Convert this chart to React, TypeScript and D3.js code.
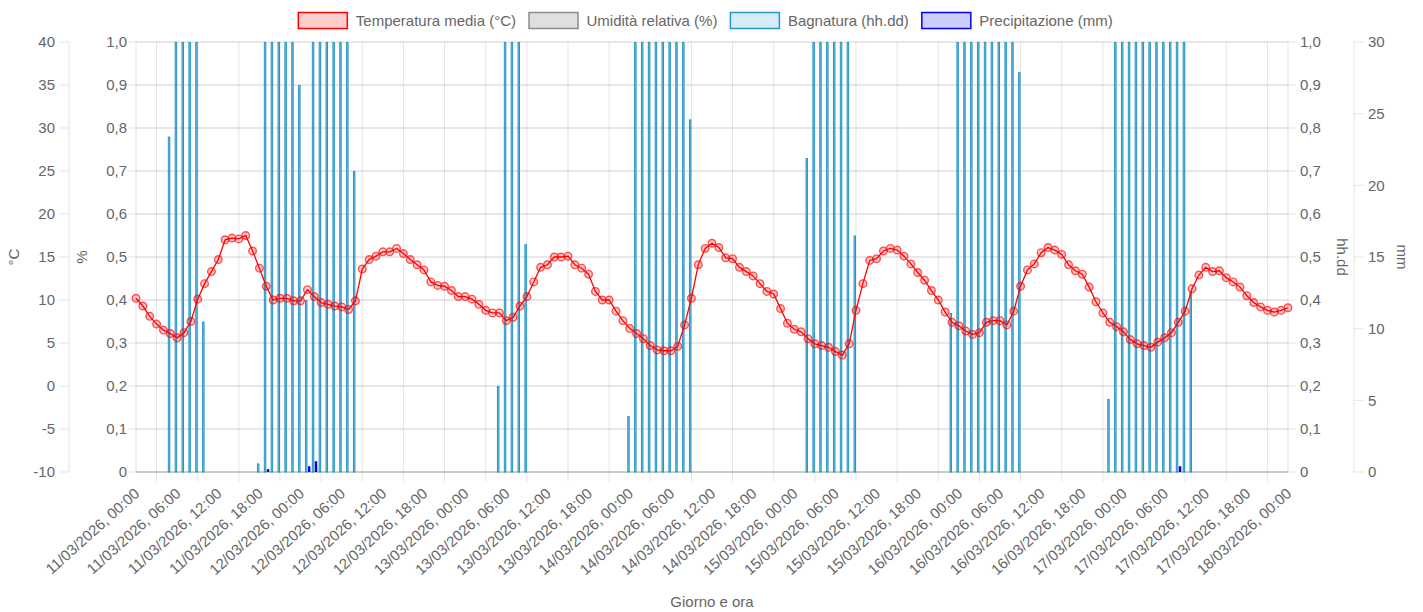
import React from 'react';
import * as d3 from 'd3';

// hourly readings, 11/03/2026 00:00 -> 18/03/2026 00:00 (169 values)
const START = Date.UTC(2026, 2, 11, 0);
const HOUR = 3600 * 1000;

const temperature = [
  10.2, 9.3, 8.1, 7.2, 6.5, 6.1, 5.6, 6.2, 7.5, 10.1, 11.9, 13.3, 14.7, 17.0, 17.2, 17.1, 17.5, 15.7, 13.7, 11.6, 10.0, 10.2, 10.2, 9.9,
  9.9, 11.2, 10.4, 9.7, 9.5, 9.3, 9.2, 8.9, 9.9, 13.6, 14.7, 15.1, 15.6, 15.6, 16.0, 15.4, 14.7, 14.1, 13.5, 12.1, 11.7, 11.6, 11.1, 10.4,
  10.4, 10.1, 9.5, 8.8, 8.5, 8.5, 7.6, 8.0, 9.3, 10.4, 12.1, 13.8, 14.1, 15.0, 15.0, 15.1, 14.1, 13.7, 13.0, 11.0, 10.0, 10.0, 8.7, 7.6,
  6.7, 6.1, 5.5, 4.7, 4.2, 4.1, 4.1, 4.6, 7.1, 10.2, 14.1, 16.0, 16.6, 16.1, 14.9, 14.8, 13.8, 13.3, 12.8, 11.9, 11.0, 10.7, 9.0, 7.3,
  6.6, 6.3, 5.5, 4.9, 4.7, 4.5, 4.0, 3.6, 4.9, 8.8, 11.9, 14.6, 14.8, 15.7, 16.0, 15.8, 15.1, 14.2, 13.2, 12.3, 11.1, 10.0, 8.6, 7.4,
  7.0, 6.4, 6.0, 6.2, 7.4, 7.6, 7.6, 7.1, 8.7, 11.6, 13.5, 14.2, 15.5, 16.1, 15.8, 15.3, 14.1, 13.4, 13.0, 11.5, 9.8, 8.5, 7.4, 6.9,
  6.3, 5.4, 4.9, 4.7, 4.5, 5.1, 5.6, 6.2, 7.4, 8.7, 11.3, 12.9, 13.8, 13.3, 13.4, 12.6, 12.1, 11.5, 10.5, 9.7, 9.2, 8.8, 8.6, 8.8,
  9.1,
];

const humidity: number[] = [];

const wetness = [
  0, 0, 0, 0, 0, 0.78, 1, 1, 1, 1, 0.35, 0, 0, 0, 0, 0, 0, 0, 0.02, 1, 1, 1, 1, 1,
  0.9, 0.4, 1, 1, 1, 1, 1, 1, 0.7, 0, 0, 0, 0, 0, 0, 0, 0, 0, 0, 0, 0, 0, 0, 0,
  0, 0, 0, 0, 0, 0.2, 1, 1, 1, 0.53, 0, 0, 0, 0, 0, 0, 0, 0, 0, 0, 0, 0, 0, 0,
  0.13, 1, 1, 1, 1, 1, 1, 1, 1, 0.82, 0, 0, 0, 0, 0, 0, 0, 0, 0, 0, 0, 0, 0, 0,
  0, 0, 0.73, 1, 1, 1, 1, 1, 1, 0.55, 0, 0, 0, 0, 0, 0, 0, 0, 0, 0, 0, 0, 0, 0.37,
  1, 1, 1, 1, 1, 1, 1, 1, 1, 0.93, 0, 0, 0, 0, 0, 0, 0, 0, 0, 0, 0, 0, 0.17, 1,
  1, 1, 1, 1, 1, 1, 1, 1, 1, 1, 0.42, 0, 0, 0, 0, 0, 0, 0, 0, 0, 0, 0, 0, 0,
  0,
];

const rain = [
  0, 0, 0, 0, 0, 0, 0, 0, 0, 0, 0, 0, 0, 0, 0, 0, 0, 0, 0, 0.2, 0, 0, 0, 0,
  0, 0.4, 0.75, 0, 0, 0, 0, 0, 0, 0, 0, 0, 0, 0, 0, 0, 0, 0, 0, 0, 0, 0, 0, 0,
  0, 0, 0, 0, 0, 0, 0, 0, 0, 0, 0, 0, 0, 0, 0, 0, 0, 0, 0, 0, 0, 0, 0, 0,
  0, 0, 0, 0, 0, 0, 0, 0, 0, 0, 0, 0, 0, 0, 0, 0, 0, 0, 0, 0, 0, 0, 0, 0,
  0, 0, 0, 0, 0, 0, 0, 0, 0, 0, 0, 0, 0, 0, 0, 0, 0, 0, 0, 0, 0, 0, 0, 0,
  0, 0, 0, 0, 0, 0, 0, 0, 0, 0, 0, 0, 0, 0, 0, 0, 0, 0, 0, 0, 0, 0, 0, 0,
  0, 0, 0, 0, 0, 0, 0, 0, 0.4, 0, 0, 0, 0, 0, 0, 0, 0, 0, 0, 0, 0, 0, 0, 0,
  0,
];

const seriesNames = ['Temperatura media (°C)', 'Umidità relativa (%)', 'Bagnatura (hh.dd)', 'Precipitazione (mm)'];
const tempTicks = [-10, -5, 0, 5, 10, 15, 20, 25, 30, 35, 40];
const ratioTicks = [0, 0.1, 0.2, 0.3, 0.4, 0.5, 0.6, 0.7, 0.8, 0.9, 1];
const mmTicks = [0, 5, 10, 15, 20, 25, 30];

const colors = [
  { fill: 'rgba(255,0,0,0.2)', stroke: 'rgb(255,0,0)' },
  { fill: 'rgba(150,150,150,0.3)', stroke: 'rgb(140,140,140)' },
  { fill: 'rgba(54,162,235,0.2)', stroke: 'rgb(38,150,196)' },
  { fill: 'rgba(0,0,255,0.2)', stroke: 'rgb(0,0,255)' },
];

const W = 1423;
const H = 612;
const left = 136, right = 1288, top = 42, bottom = 472;
const FONT = '"Liberation Sans", Arial, Helvetica, sans-serif';
const TXT = '#666';

function measure(text: string) {
  const c = document.createElement('canvas').getContext('2d')!;
  c.font = `15px ${FONT}`;
  return c.measureText(text).width;
}

const fmtRatio = (v: number) => (v === 0 ? '0' : v.toFixed(1).replace('.', ','));

export default function App() {
  const times = temperature.map((_, i) => new Date(START + i * HOUR));
  const x = d3.scaleUtc().domain([times[0], times[times.length - 1]]).range([left, right]);
  const yT = d3.scaleLinear().domain([-10, 40]).range([bottom, top]);
  const yR = d3.scaleLinear().domain([0, 1]).range([bottom, top]);
  const yMm = d3.scaleLinear().domain([0, 30]).range([bottom, top]);

  const slot = x(times[1]) - x(times[0]);
  const barW = ((slot * 0.8) / 2) * 0.9;

  const ticks = x.ticks(d3.utcHour.every(6)!);
  const grid = ticks.slice(0, -1).map(t => new Date(+t + 3 * HOUR));
  const fmtX = d3.utcFormat('%d/%m/%Y, %H:%M');

  const line = d3.line<number>().x((_, i) => x(times[i])).y(d => yT(d));

  // legend layout
  const boxW = 50, pad = 12.5;
  const widths = seriesNames.map(n => boxW + 8 + measure(n));
  const total = d3.sum(widths) + pad * widths.length;
  let lx = W / 2 - total / 2;
  const legend = seriesNames.map((n, i) => {
    const item = { n, i, x: lx };
    lx += widths[i] + pad;
    return item;
  });

  return (
    <svg width={W} height={H} style={{ position: 'absolute', left: 0, top: 0, background: '#fff' }} fontFamily={FONT}>
      {/* legend */}
      {legend.map(l => (
        <g key={l.n}>
          <rect x={l.x + 0.5} y={12.5} width={boxW - 1} height={16} fill={colors[l.i].fill} stroke={colors[l.i].stroke} strokeWidth={1.5} />
          <text x={l.x + boxW + 8} y={25.5} fontSize={15} fill={TXT}>{l.n}</text>
        </g>
      ))}

      {/* vertical grid */}
      {grid.map(g => (
        <line key={+g} x1={x(g)} x2={x(g)} y1={top} y2={bottom + 10} stroke="rgba(0,0,0,0.1)" />
      ))}
      {/* horizontal grid */}
      {ratioTicks.map(t => (
        <line key={t} x1={left} x2={right} y1={yR(t)} y2={yR(t)} stroke="rgba(0,0,0,0.18)" />
      ))}

      {/* °C axis */}
      <line x1={69} x2={69} y1={top} y2={bottom} stroke="rgba(0,0,0,0.1)" />
      {tempTicks.map(t => (
        <g key={t}>
          <line x1={59} x2={69} y1={yT(t)} y2={yT(t)} stroke="rgba(0,0,0,0.1)" />
          <text x={55} y={yT(t)} dy="0.35em" textAnchor="end" fontSize={15} fill={TXT}>{t}</text>
        </g>
      ))}
      <text transform={`translate(19,${(top + bottom) / 2}) rotate(-90)`} textAnchor="middle" fontSize={15} fill={TXT}>°C</text>

      {/* % axis */}
      <line x1={left} x2={left} y1={top} y2={bottom} stroke="rgba(0,0,0,0.1)" />
      {ratioTicks.map(t => (
        <g key={t}>
          <line x1={left - 8} x2={left} y1={yR(t)} y2={yR(t)} stroke="rgba(0,0,0,0.1)" />
          <text x={127} y={yR(t)} dy="0.35em" textAnchor="end" fontSize={15} fill={TXT}>{fmtRatio(t)}</text>
        </g>
      ))}
      <text transform={`translate(87,${(top + bottom) / 2}) rotate(-90)`} textAnchor="middle" fontSize={15} fill={TXT}>%</text>

      {/* hh.dd axis */}
      <line x1={right} x2={right} y1={top} y2={bottom} stroke="rgba(0,0,0,0.1)" />
      {ratioTicks.map(t => (
        <g key={t}>
          <line x1={right} x2={right + 8} y1={yR(t)} y2={yR(t)} stroke="rgba(0,0,0,0.1)" />
          <text x={1300} y={yR(t)} dy="0.35em" fontSize={15} fill={TXT}>{fmtRatio(t)}</text>
        </g>
      ))}
      <text transform={`translate(1337,${(top + bottom) / 2}) rotate(90)`} textAnchor="middle" fontSize={15} fill={TXT}>hh.dd</text>

      {/* mm axis */}
      <line x1={1354} x2={1354} y1={top} y2={bottom} stroke="rgba(0,0,0,0.1)" />
      {mmTicks.map(t => (
        <g key={t}>
          <line x1={1354} x2={1364} y1={yMm(t)} y2={yMm(t)} stroke="rgba(0,0,0,0.1)" />
          <text x={1368} y={yMm(t)} dy="0.35em" fontSize={15} fill={TXT}>{t}</text>
        </g>
      ))}
      <text transform={`translate(1397,${(top + bottom) / 2}) rotate(90)`} textAnchor="middle" fontSize={15} fill={TXT}>mm</text>

      {/* x axis */}
      <line x1={left} x2={right} y1={bottom} y2={bottom} stroke="rgba(0,0,0,0.25)" />
      {ticks.map(t => (
        <text key={+t} transform={`translate(${x(t) + 1},${bottom + 19}) rotate(-42)`} textAnchor="end" dy="0.35em" fontSize={15} fill={TXT}>
          {fmtX(t)}
        </text>
      ))}
      <text x={(left + right) / 2} y={607} textAnchor="middle" fontSize={15} fill={TXT}>Giorno e ora</text>

      {/* bars: bagnatura */}
      {wetness.map((v, i) =>
        v > 0 ? (
          <rect key={'w' + i} x={x(times[i]) - barW + 0.5} y={yR(v) + 0.5} width={barW - 1} height={Math.max(0, yR(0) - yR(v) - 0.5)}
            fill="rgba(54,162,235,0.65)" stroke={colors[2].stroke} strokeWidth={1} />
        ) : null
      )}
      {/* bars: precipitazione */}
      {rain.map((v, i) =>
        v > 0 ? (
          <rect key={'r' + i} x={x(times[i]) + 0.5} y={yMm(v)} width={barW} height={yMm(0) - yMm(v)}
            fill="rgb(0,0,255)" />
        ) : null
      )}
      {/* humidity (no readings) */}
      {humidity.length > 0 && (
        <path d={d3.line<number>().x((_, i) => x(times[i])).y(d => yR(d / 100))(humidity)!} fill="none" stroke={colors[1].stroke} />
      )}

      {/* temperature */}
      <path d={line(temperature)!} fill="none" stroke="rgb(255,0,0)" strokeWidth={1.3} />
      {temperature.map((v, i) => (
        <circle key={'t' + i} cx={x(times[i])} cy={yT(v)} r={3.8} fill="rgba(255,0,0,0.22)" stroke="rgba(255,0,0,0.65)" strokeWidth={1.4} />
      ))}
    </svg>
  );
}
